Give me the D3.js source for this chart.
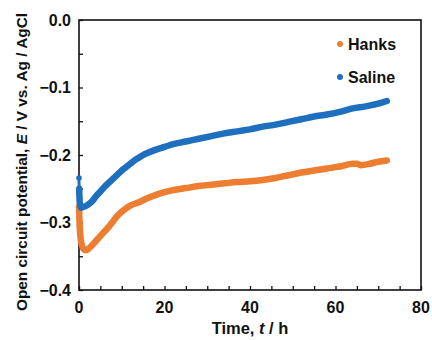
<!DOCTYPE html>
<html><head><meta charset="utf-8">
<script src="https://cdn.jsdelivr.net/npm/d3@7"></script>
<style>body{margin:0;background:#fff}svg{display:block}text{font-family:"Liberation Sans",Arial,sans-serif;font-weight:bold;fill:#111}</style>
</head><body>
<svg id="c" width="432" height="340"></svg>
<script>
const xTicks = [0, 20, 40, 60, 80];
const yTicks = [0.0, -0.1, -0.2, -0.3, -0.4];
const seriesNames = ["Hanks", "Saline"];
const seriesColors = ["#ED7D31", "#1F6FBF"];
const hanksTime = [0, 0.1, 0.2, 0.35, 0.5, 0.75, 1, 1.5, 2, 3, 4, 5, 6, 7, 8, 9, 10, 11, 12, 14, 16, 18, 20, 22, 25, 28, 31, 34, 37, 40, 43, 46, 49, 52, 55, 58, 61, 64, 65, 66, 68, 70, 72];
const hanksE = [-0.277, -0.295, -0.31, -0.322, -0.329, -0.335, -0.339, -0.341, -0.340, -0.334, -0.327, -0.320, -0.313, -0.306, -0.298, -0.290, -0.284, -0.279, -0.275, -0.270, -0.264, -0.259, -0.255, -0.252, -0.249, -0.246, -0.244, -0.242, -0.240, -0.239, -0.237, -0.234, -0.230, -0.226, -0.223, -0.220, -0.217, -0.213, -0.213, -0.215, -0.213, -0.210, -0.208];
const salineTime = [0, 0.05, 0.1, 0.2, 0.4, 1, 2, 3, 4, 5, 6, 7, 8, 9, 10, 11, 12, 13, 14, 15, 16, 18, 20, 22, 25, 28, 31, 34, 37, 40, 43, 46, 49, 52, 55, 58, 61, 64, 67, 70, 72];
const salineE = [-0.234, -0.250, -0.262, -0.272, -0.278, -0.277, -0.274, -0.269, -0.261, -0.254, -0.247, -0.241, -0.235, -0.229, -0.223, -0.218, -0.213, -0.208, -0.204, -0.200, -0.197, -0.192, -0.188, -0.184, -0.180, -0.176, -0.172, -0.168, -0.165, -0.162, -0.158, -0.155, -0.151, -0.147, -0.143, -0.140, -0.136, -0.131, -0.128, -0.124, -0.120];

const svg = d3.select("#c");
const L = 79, R = 421, T = 20, B = 290;
const x = d3.scaleLinear().domain([0, 80]).range([L, R]);
const y = d3.scaleLinear().domain([-0.4, 0]).range([B, T]);

// frame
svg.append("rect").attr("x", L).attr("y", T).attr("width", R - L).attr("height", B - T)
  .attr("fill", "none").attr("stroke", "#111").attr("stroke-width", 1.6);

// minor/major inward ticks
const xAxis = d3.axisBottom(x).tickValues(d3.range(0, 81, 5)).tickSize(-4).tickFormat("");
svg.append("g").attr("transform", `translate(0,${B})`).call(xAxis)
  .call(g => { g.select(".domain").remove(); g.selectAll("line").attr("stroke", "#111").attr("stroke-width", 1.3); });
const yAxis = d3.axisLeft(y).tickValues(d3.range(-0.4, 0.001, 0.05)).tickSize(-4).tickFormat("");
svg.append("g").attr("transform", `translate(${L},0)`).call(yAxis)
  .call(g => { g.select(".domain").remove(); g.selectAll("line").attr("stroke", "#111").attr("stroke-width", 1.3); });

// tick labels
svg.append("g").selectAll("text").data(xTicks).join("text")
  .attr("x", d => x(d)).attr("y", B + 23).attr("text-anchor", "middle").attr("font-size", 16).text(d => d);
svg.append("g").selectAll("text").data(yTicks).join("text")
  .attr("x", L - 8).attr("y", d => y(d) + 5.5).attr("text-anchor", "end").attr("font-size", 16)
  .text(d => d3.format(".1f")(d));

// axis titles
const xt = svg.append("text").attr("x", 250).attr("y", 334).attr("text-anchor", "middle").attr("font-size", 16.5);
xt.append("tspan").text("Time, ");
xt.append("tspan").attr("font-style", "italic").text("t");
xt.append("tspan").text(" / h");
const yt = svg.append("text").attr("transform", "translate(27,162) rotate(-90)").attr("text-anchor", "middle").attr("font-size", 15.4);
yt.append("tspan").text("Open circuit potential, ");
yt.append("tspan").attr("font-style", "italic").text("E");
yt.append("tspan").text(" / V vs. Ag / AgCl");

// data
const series = [
  {name: seriesNames[0], color: seriesColors[0], pts: hanksTime.map((t, i) => [t, hanksE[i]])},
  {name: seriesNames[1], color: seriesColors[1], pts: salineTime.map((t, i) => [t, salineE[i]])}
];
const line = d3.line().x(d => x(d[0])).y(d => y(d[1])).curve(d3.curveMonotoneX);
series.forEach(s => {
  const pts = s.name === "Saline" ? s.pts.slice(1) : s.pts;
  svg.append("path").attr("d", line(pts)).attr("fill", "none").attr("stroke", s.color)
    .attr("stroke-width", 6.5).attr("stroke-linecap", "round").attr("stroke-linejoin", "round");
  if (s.name === "Saline") {
    svg.append("circle").attr("cx", x(s.pts[0][0])).attr("cy", y(s.pts[0][1])).attr("r", 2.8).attr("fill", s.color);
    svg.append("line").attr("x1", x(s.pts[0][0])).attr("x2", x(s.pts[1][0])).attr("y1", y(s.pts[0][1]) + 3).attr("y2", y(s.pts[1][1]))
      .attr("stroke", s.color).attr("stroke-width", 3);
  }
});

// legend
const lg = svg.append("g");
series.forEach((s, i) => {
  const yy = 44 + i * 33;
  lg.append("circle").attr("cx", 340).attr("cy", yy).attr("r", 3).attr("fill", s.color);
  lg.append("text").attr("x", 348).attr("y", yy + 6).attr("font-size", 16).text(s.name);
});
</script>
</body></html>
